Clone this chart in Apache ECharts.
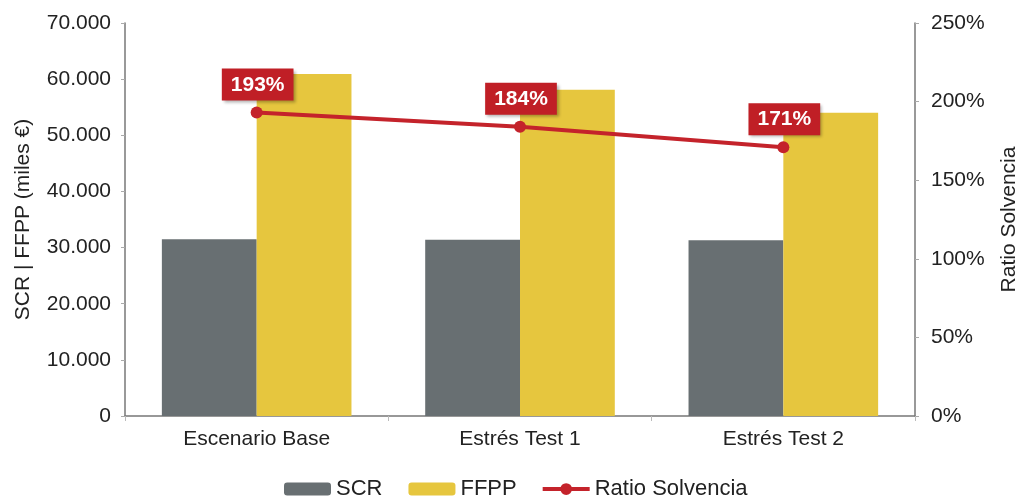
<!DOCTYPE html>
<html><head><meta charset="utf-8">
<script src="https://cdn.jsdelivr.net/npm/echarts@6/dist/echarts.min.js"></script>
<style>html,body{margin:0;padding:0;background:#fff}#c{width:1019px;height:499px}</style>
</head><body><div id="c"></div>
<script>
const categories = ['Escenario Base', 'Estrés Test 1', 'Estrés Test 2'];
const scr = [31500, 31400, 31300];
const ffpp = [60900, 58100, 54000];
const ratio = [193, 184, 171];
const leftTicks = { min: 0, max: 70000, interval: 10000 };
const rightTicks = { min: 0, max: 250, interval: 50 };

const fmtThousands = v => String(v).replace(/\B(?=(\d{3})+(?!\d))/g, '.');
const font = 'Liberation Sans, Arial, sans-serif';
const chart = echarts.init(document.getElementById('c'));
chart.setOption({
  animation: false,
  textStyle: { fontFamily: font },
  grid: { left: 125, right: 104, top: 23, bottom: 83, containLabel: false, outerBoundsMode: 'none' },
  legend: {
    top: 473, left: 279, itemWidth: 47, itemHeight: 13, itemGap: 26,
    textStyle: { fontSize: 22, color: '#222', fontFamily: font },
    data: [
      { name: 'SCR' },
      { name: 'FFPP' },
      { name: 'Ratio Solvencia', icon: 'path://M0,5 L48,5 L48,9 L0,9 Z M18,7 A6,6 0 1,1 30,7 A6,6 0 1,1 18,7 Z' }
    ]
  },
  xAxis: {
    type: 'category', data: categories,
    axisLine: { lineStyle: { color: '#777', width: 1.5 } },
    axisTick: { show: true, length: 5, lineStyle: { color: '#bbb' } },
    axisLabel: { fontSize: 21, color: '#222', margin: 13 }
  },
  yAxis: [
    {
      type: 'value', min: leftTicks.min, max: leftTicks.max, interval: leftTicks.interval,
      name: 'SCR | FFPP (miles €)', nameLocation: 'middle', nameGap: 91, nameRotate: 90,
      nameTextStyle: { fontSize: 21, color: '#222' },
      axisLine: { show: true, lineStyle: { color: '#777', width: 1.5 } },
      axisTick: { show: true, inside: false, length: 4, lineStyle: { color: '#aaa' } },
      splitLine: { show: false },
      axisLabel: { fontSize: 21, color: '#222', margin: 14, formatter: fmtThousands }
    },
    {
      type: 'value', min: rightTicks.min, max: rightTicks.max, interval: rightTicks.interval,
      name: 'Ratio Solvencia', nameLocation: 'middle', nameGap: 84, nameRotate: 90,
      nameTextStyle: { fontSize: 21, color: '#222' },
      axisLine: { show: true, lineStyle: { color: '#777', width: 1.5 } },
      axisTick: { show: true, length: 4, lineStyle: { color: '#aaa' } },
      splitLine: { show: false },
      axisLabel: { fontSize: 21, color: '#222', margin: 16, formatter: v => v + '%' }
    }
  ],
  series: [
    {
      name: 'SCR', type: 'bar', data: scr, barGap: '0%', barCategoryGap: '28%',
      itemStyle: { color: '#686f72' }
    },
    {
      name: 'FFPP', type: 'bar', data: ffpp,
      itemStyle: { color: '#e6c63e' }
    },
    {
      name: 'Ratio Solvencia', type: 'line', yAxisIndex: 1, data: ratio,
      symbol: 'circle', symbolSize: 12,
      lineStyle: { color: '#c4232b', width: 4 },
      itemStyle: { color: '#c4232b' },
      label: {
        show: true, position: 'top', distance: 6, formatter: p => p.value + '%',
        color: '#fff', fontWeight: 'bold', fontSize: 21, backgroundColor: '#c01f26',
        padding: [6, 9, 5, 9], offset: [1, 0],
        shadowColor: 'rgba(0,0,0,0.3)', shadowBlur: 3, shadowOffsetX: 2, shadowOffsetY: 2
      }
    }
  ]
});
</script></body></html>
